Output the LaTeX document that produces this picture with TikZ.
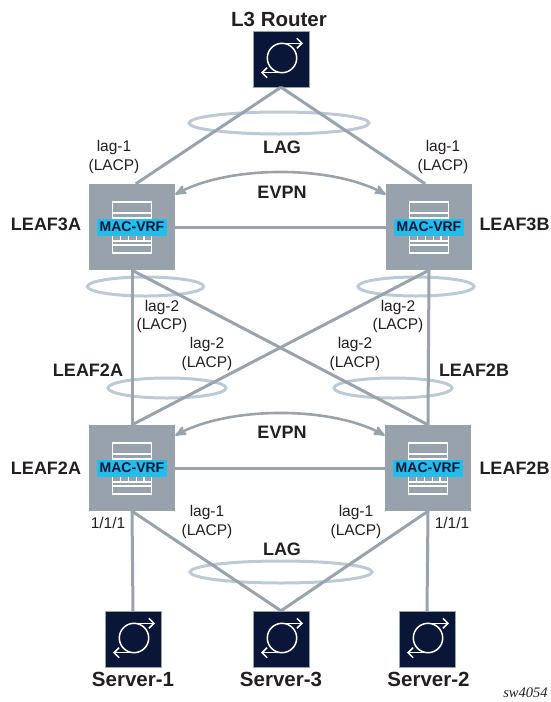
\documentclass[tikz,border=0pt]{standalone}
\usepackage{fontspec}
\setmainfont{Liberation Sans}
\newfontfamily\tagfont{Liberation Serif}
\usetikzlibrary{arrows,arrows.meta}
\definecolor{LeafGray}{HTML}{98A2AD}
\definecolor{LinkGray}{HTML}{98A3AE}
\definecolor{LagBlue}{HTML}{BDCAD6}
\definecolor{RouterNavy}{HTML}{0A1638}
\definecolor{VrfCyan}{HTML}{22BDEA}
\definecolor{InkBlack}{HTML}{231F20}

\begin{document}
\begin{tikzpicture}[x=1pt,y=-1pt,>=stealth',
    leaf/.style={fill=LeafGray, minimum size=86pt, inner sep=0pt},
    router/.style={fill=RouterNavy, draw=LeafGray, line width=0.4pt, minimum size=56pt, inner sep=0pt},
    vrf/.style={fill=VrfCyan, text=RouterNavy, font=\bfseries\fontsize{14}{14}\selectfont, minimum width=70pt, minimum height=17pt, inner sep=0pt},
    title/.style={text=InkBlack, font=\bfseries\fontsize{18}{20}\selectfont},
    device/.style={text=InkBlack, font=\bfseries\fontsize{20.5}{22}\selectfont},
    port/.style={text=InkBlack, font=\fontsize{15.5}{18.5}\selectfont, align=center},
    link/.style={draw=LinkGray, line width=3pt},
    evpn/.style={<->, draw=LinkGray, line width=2.6pt},
    lag/.style={draw=LagBlue, line width=3pt},
    leaficon/.pic={
        \draw[white, line width=1.3pt] (-19.5,-25) rectangle (19.5,26);
        \draw[white, line width=1.3pt] (-19.5,-14) -- (19.5,-14) (-19.5,-9) -- (19.5,-9);
        \draw[white, line width=1.3pt] (-19.5,14) -- (19.5,14) (-19.5,18) -- (19.5,18);
        \foreach \tick in {-11.5,-3.5,4.5,12} \draw[white, line width=1.3pt] (\tick,-9) -- (\tick,14);
    },
    routericon/.pic={
        \draw[white, line width=1.5pt] (1,-1) circle (14.7);
        \draw[white, line width=1.5pt, -{Straight Barb[length=5pt,width=10pt]}] (1,-15.7) -- (22,-15.7);
        \draw[white, line width=1.5pt, -{Straight Barb[length=5pt,width=10pt]}] (1,13.7) -- (-20,13.7);
    }]

\useasboundingbox (0,0) rectangle (550,702);

% ellipses
\draw[lag] (279,123) ellipse (90 and 11);
\draw[lag] (145.5,286.5) ellipse (58 and 9.5);
\draw[lag] (416,286.5) ellipse (58 and 9.5);
\draw[lag] (167,388) ellipse (59 and 10);
\draw[lag] (393,388) ellipse (59 and 10);
\draw[lag] (281,572) ellipse (91 and 11);

\node[router] (L3) at (281,59) {};
\node[leaf] (LEAF3A) at (132,227) {};
\node[leaf] (LEAF3B) at (429,227) {};
\node[leaf] (LEAF2A) at (132,468) {};
\node[leaf] (LEAF2B) at (428,468) {};
\node[router] (S1) at (133,639) {};
\node[router] (S3) at (281,639) {};
\node[router] (S2) at (427,639) {};

\pic at (L3) {routericon};
\pic at (S1) {routericon};
\pic at (S3) {routericon};
\pic at (S2) {routericon};
\pic at (LEAF3A) {leaficon};
\pic at (LEAF3B) {leaficon};
\pic at (LEAF2A) {leaficon};
\pic at (LEAF2B) {leaficon};

\node[vrf] (V3A) at (LEAF3A) {MAC-VRF};
\node[vrf] (V3B) at (LEAF3B) {MAC-VRF};
\node[vrf] (V2A) at (LEAF2A) {MAC-VRF};
\node[vrf] (V2B) at (LEAF2B) {MAC-VRF};

\path[link]
    (L3.south) edge (LEAF3A.85)
    (L3.south) edge (LEAF3B.95)
    (LEAF3A) edge (LEAF3B)
    (LEAF2A) edge (LEAF2B)
    (LEAF3A.south) edge (LEAF2A.north)
    (LEAF3B.south) edge (LEAF2B.north)
    (LEAF3A.south) edge (LEAF2B.north)
    (LEAF3B.south) edge (LEAF2A.north)
    (LEAF2A.south) edge (S1.north)
    (LEAF2A.south) edge (S3.north)
    (LEAF2B.south) edge (S3.north)
    (LEAF2B.south) edge (S2.north);

\draw[evpn] (LEAF3A.37) .. controls (230,165) and (331,165) .. (LEAF3B.143);
\draw[evpn] (LEAF2A.37) .. controls (230,406) and (331,406) .. (LEAF2B.143);

\node[device] (tL3) at (279,19) {L3 Router};
\node[title] (tLAG1) at (282,147) {LAG};
\node[title] (tEVPN1) at (282,192) {EVPN};
\node[title] (t3A) at (46,224) {LEAF3A};
\node[title] (t3B) at (514.5,224) {LEAF3B};
\node[title] (tM2A) at (88,370) {LEAF2A};
\node[title] (tM2B) at (474,370) {LEAF2B};
\node[title] (tEVPN2) at (282,432) {EVPN};
\node[title] (t2A) at (46,468) {LEAF2A};
\node[title] (t2B) at (514.5,468) {LEAF2B};
\node[title] (tLAG2) at (282,549) {LAG};
\node[device] (tS1) at (133,679) {Server-1};
\node[device] (tS3) at (281,679) {Server-3};
\node[device] (tS2) at (428.5,679) {Server-2};

\node[port] (p1) at (114,157) {lag-1\\(LACP)};
\node[port] (p2) at (443,157) {lag-1\\(LACP)};
\node[port] (p3) at (162,316.5) {lag-2\\(LACP)};
\node[port] (p4) at (398,316.5) {lag-2\\(LACP)};
\node[port] (p5) at (207,354) {lag-2\\(LACP)};
\node[port] (p6) at (355,354) {lag-2\\(LACP)};
\node[port] (p7) at (207,522) {lag-1\\(LACP)};
\node[port] (p8) at (356,522) {lag-1\\(LACP)};
\node[port] (p9) at (108,523) {1/1/1};
\node[port] (p10) at (452,523) {1/1/1};
\node[text=InkBlack, font=\tagfont\itshape\fontsize{14.5}{16}\selectfont] (tag) at (525.5,693) {sw4054};

\end{tikzpicture}
\end{document}
